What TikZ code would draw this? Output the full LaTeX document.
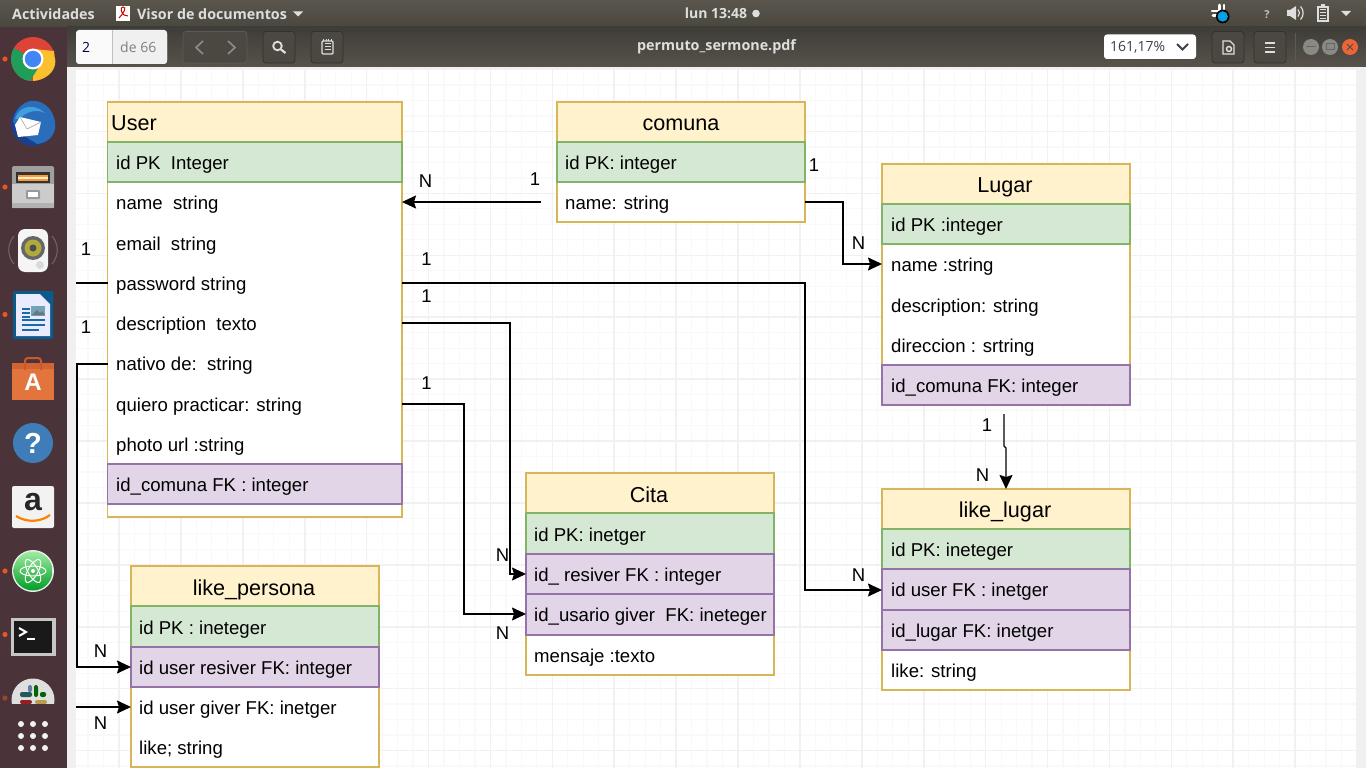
\documentclass[tikz,border=0pt]{standalone}
\usepackage{fontspec}
\setmainfont{Liberation Sans}
\newfontfamily\uifont{Open Sans}
\newfontfamily\symfont{DejaVu Sans}
\usetikzlibrary{arrows.meta,calc}
\definecolor{hdrfill}{HTML}{FFF2CC}\definecolor{hdrline}{HTML}{D6B656}
\definecolor{grnfill}{HTML}{D5E8D4}\definecolor{grnline}{HTML}{82B366}
\definecolor{purfill}{HTML}{E1D5E7}\definecolor{purline}{HTML}{9673A6}
\definecolor{dockbg}{HTML}{4A3439}\definecolor{barT}{HTML}{5A564E}\definecolor{barA}{HTML}{4A473F}\definecolor{barB}{HTML}{3F3D37}\definecolor{barC}{HTML}{57534B}
\definecolor{uitext}{HTML}{DEDEDC}\definecolor{orangedot}{HTML}{E95420}\definecolor{gridminor}{HTML}{F9F9F9}\definecolor{gridmajor}{HTML}{F1F1F1}
\definecolor{btnline}{HTML}{33312C}\definecolor{btnfill}{HTML}{4A4740}\definecolor{wingray}{HTML}{8A8A84}
\definecolor{chred}{HTML}{DB4437}\definecolor{chyel}{HTML}{FBC02D}\definecolor{chgrn}{HTML}{1E9E58}\definecolor{chblu}{HTML}{4285F4}
\definecolor{tbblue}{HTML}{2A6EBB}\definecolor{tbdark}{HTML}{1B3F8C}\definecolor{tblight}{HTML}{3FA0DC}
\definecolor{wrblue}{HTML}{0B5A8E}\definecolor{wrline}{HTML}{1C6AA5}
\definecolor{storeor}{HTML}{E2743E}\definecolor{storeha}{HTML}{C85A2C}
\definecolor{helpbl}{HTML}{3F7DB8}
\tikzset{
 x=1pt,y=-1pt,
 row/.style={draw=none,anchor=west,minimum height=40.3pt,text height=17pt,text depth=4pt,font=\fontsize{18.6}{20}\selectfont,inner sep=0pt},
 title/.style={anchor=center,font=\fontsize{21.6}{24}\selectfont,inner sep=0pt,text height=22pt,text depth=5pt},
 card/.style={draw=hdrline,line width=1.3pt},
 hdr/.style={fill=hdrfill,draw=hdrline,line width=1.3pt},
 grn/.style={fill=grnfill,draw=grnline,line width=1.3pt},
 pur/.style={fill=purfill,draw=purline,line width=1.3pt},
 conn/.style={draw=black,line width=1.4pt,-{Stealth[length=14pt,width=13pt,inset=2pt]}},
 plain/.style={draw=black,line width=1.4pt},
 lbl/.style={font=\fontsize{18.5}{20}\selectfont,inner sep=0pt},
 barbtn/.style={draw=btnline,fill=barB!50!barC,rounded corners=3pt,line width=.8pt},
 uilab/.style={text=uitext,font=\uifont\bfseries\fontsize{14.3}{15}\selectfont,inner sep=0pt},
 dot/.style={fill=orangedot,draw=none},
}
\begin{document}
\begin{tikzpicture}
\useasboundingbox (0,0) rectangle (1366,768);
\fill[white] (0,0) rectangle (1366,768);
% page and grid
\fill[gray!12] (67,67) rectangle (76,768);
\fill[gray!12] (1358,67) rectangle (1366,768);
\fill[gray!12] (67,67) rectangle (1366,70);
\fill[white] (76,70) rectangle (1358,768);
\begin{scope}
\clip (76,70) rectangle (1358,768);
\foreach \i in {0,...,90}{
 \draw[gridminor,line width=1.2pt] ({72.6+15.475*\i},70) -- ({72.6+15.475*\i},768);
 \draw[gridminor,line width=1.2pt] (76,{69.6+15.475*\i}) -- (1358,{69.6+15.475*\i});
}
\foreach \i in {0,...,22}{
 \draw[gridmajor,line width=1.6pt] ({57.1+61.9*\i},70) -- ({57.1+61.9*\i},768);
 \draw[gridmajor,line width=1.6pt] (76,{69.6+61.9*\i}) -- (1358,{69.6+61.9*\i});
}
\end{scope}
% ============ tables
% User
\fill[white] (107.8,102) rectangle (402,517);
\draw[card] (107.8,142) -- (107.8,517) -- (402,517) -- (402,142);
\draw[hdr] (107.8,102) rectangle (402,142);
\draw[grn] (107.8,142) rectangle (402,182);
\draw[pur] (107.8,464) rectangle (402,504);
\node[title,anchor=west] (ut) at (111,122) {User};
\node[row] (u1) at (116,162.5) {id PK\ \ Integer};
\node[row] (u2) at (116,203) {name\ \ string};
\node[row] (u3) at (116,243.5) {email\ \ string};
\node[row] (u4) at (116,283.5) {password string};
\node[row] (u5) at (116,323.5) {description\ \ texto};
\node[row] (u6) at (116,364) {nativo de:\ \ string};
\node[row] (u7) at (116,404.5) {quiero practicar: string};
\node[row] (u8) at (116,444.5) {photo url :string};
\node[row] (u9) at (116,484.5) {id\_comuna FK : integer};
\coordinate (uR2) at (402,202);\coordinate (uR4) at (402,283);\coordinate (uR5) at (402,323);\coordinate (uR7) at (402,404);
\coordinate (uL4) at (107.8,283);\coordinate (uL6) at (107.8,364);
% comuna
\fill[white] (557,102) rectangle (805,222);
\draw[card] (557,182) rectangle (805,222);
\draw[hdr] (557,102) rectangle (805,142);
\draw[grn] (557,142) rectangle (805,182);
\node[title] (ct) at (681,122) {comuna};
\node[row] (c1) at (565,162.5) {id PK: integer};
\node[row] (c2) at (565,203) {name: string};
\coordinate (cR) at (805,202);
\coordinate (cL) at (541,202);
% Lugar
\fill[white] (882,164) rectangle (1130,405);
\draw[card] (882,244) rectangle (1130,365);
\draw[hdr] (882,164) rectangle (1130,204);
\draw[grn] (882,204) rectangle (1130,244);
\draw[pur] (882,365) rectangle (1130,405);
\node[title] (lt) at (1005,184) {Lugar};
\node[row] (l1) at (891,224.5) {id PK :integer};
\node[row] (l2) at (891,265) {name :string};
\node[row] (l3) at (891,305.5) {description: string};
\node[row] (l4) at (891,345.5) {direccion : srtring};
\node[row] (l5) at (891,385.5) {id\_comuna FK: integer};
\coordinate (lL) at (882,264);
\coordinate (lB) at (1004,414);
% like_lugar
\fill[white] (882,489) rectangle (1130,690);
\draw[card] (882,650) rectangle (1130,690);
\draw[hdr] (882,489) rectangle (1130,529);
\draw[grn] (882,529) rectangle (1130,569);
\draw[pur] (882,569) rectangle (1130,610);
\draw[pur] (882,610) rectangle (1130,650);
\node[title] (kt) at (1005,509) {like\_lugar};
\node[row] (k1) at (891,550) {id PK: ineteger};
\node[row] (k2) at (891,590) {id user FK : inetger};
\node[row] (k3) at (891,630.5) {id\_lugar FK: inetger};
\node[row] (k4) at (891,671) {like: string};
\coordinate (kL) at (882,590);
\coordinate (kT) at (1006,489);
% Cita
\fill[white] (526,473) rectangle (774,675);
\draw[card] (526,635) rectangle (774,675);
\draw[hdr] (526,473) rectangle (774,513);
\draw[grn] (526,513) rectangle (774,554);
\draw[pur] (526,554) rectangle (774,594);
\draw[pur] (526,594) rectangle (774,635);
\node[title] (zt) at (649,494) {Cita};
\node[row] (z1) at (534,534.5) {id PK: inetger};
\node[row] (z2) at (534,575) {id\_ resiver FK : integer};
\node[row] (z3) at (534,615) {id\_usario giver\ \ FK: ineteger};
\node[row] (z4) at (534,655.5) {mensaje :texto};
\coordinate (zL2) at (526,574);
\coordinate (zL3) at (526,614);
% like_persona
\fill[white] (131,566) rectangle (379,767);
\draw[card] (131,687) rectangle (379,767);
\draw[hdr] (131,566) rectangle (379,606);
\draw[grn] (131,606) rectangle (379,647);
\draw[pur] (131,647) rectangle (379,687);
\node[title] (pt) at (254,587) {like\_persona};
\node[row] (p1) at (139,627.5) {id PK : ineteger};
\node[row] (p2) at (139,668) {id user resiver FK: integer};
\node[row] (p3) at (139,708) {id user giver FK: inetger};
\node[row] (p4) at (139,748) {like; string};
\coordinate (pL2) at (131,667);
\coordinate (pL3) at (131,707);
\coordinate (fL4) at (76,283);
\coordinate (fL6) at (77,364);
\coordinate (fL7) at (76,707);
% ============ connectors
\draw[conn] (cL) -- (uR2);
\draw[conn] (cR) -- (843,202) -- (843,264) -- (lL);
\draw[conn] (uR4) -- (805,283) -- (805,590) -- (kL);
\draw[conn] (uR5) -- (510,323) -- (510,574) -- (zL2);
\draw[conn] (uR7) -- (464,404) -- (464,614) -- (zL3);
\draw[conn] (lB) -- (1004,446) -- (1006,448) -- (kT);
\draw[plain] (uL4) -- (fL4);
\draw[conn] (uL6) -- (fL6) -- (fL6 |- pL2) -- (pL2);
\draw[conn] (fL7) -- (pL3);
% labels
\foreach \n/\t/\x/\y in {a/N/425.5/181,b/1/535/179,c/1/814/165,d/N/858.5/243,e/1/426.5/259,f/1/426.5/296,g/1/86/249,h/1/86/327,i/1/426.5/383,j/N/502.5/555,m/N/502.5/633,n/N/858.5/575,o/1/987/425,q/N/982.5/475,r/N/100.5/651,s/N/100.5/723}
 \node[lbl] (lab\n) at (\x,\y) {\t};
% ============ desktop chrome
\fill[dockbg] (0,27) rectangle (67,768);
\shade[top color=barT,bottom color=barA] (0,0) rectangle (1366,27);
\shade[top color=barB,bottom color=barC] (67,27) rectangle (1366,67);
% top bar texts
\node[uilab,anchor=west] (t1) at (12,14) {Actividades};
\node[uilab,anchor=west] (t2) at (137,14) {Visor de documentos};
\node[uilab,anchor=center,font=\uifont\bfseries\fontsize{14}{15}\selectfont] (t3) at (716,13.5) {lun 13:48};
\fill[uitext] (756,13.5) circle (3.8);
\fill[uitext] (293,11.5) -- (303,11.5) -- (298,16.5) -- cycle;
\fill[white] (116,6) rectangle (130,21);
\draw[red!80!black,line width=1pt] (119,18) .. controls (124,13) and (127,7) .. (123,7) .. controls (120,7) and (121,13) .. (124,15) -- (128,16);
% right indicators
\draw[white,line width=2.6pt,line cap=round] (1212,11) -- (1218,11) (1213,15.5) -- (1217,15.5) (1219.5,5) -- (1219.5,10) (1224,5) -- (1224,9);
\fill[black] (1222.7,16.5) circle (6.8);\fill[cyan!90!blue] (1222.7,16.5) circle (5.2);
\node[uilab,font=\uifont\bfseries\fontsize{11}{12}\selectfont,text=uitext!80!barA] (q) at (1267,15) {?};
\fill[uitext] (1287,10) -- (1290,10) -- (1296,6) -- (1296,20) -- (1290,16) -- (1287,16) -- cycle;
\draw[uitext,line width=1.2pt] (1298,9.5) .. controls (1300,12) and (1300,14) .. (1298,16.5);
\draw[uitext,line width=1.2pt] (1300.5,6.5) .. controls (1304,10) and (1304,16) .. (1300.5,19.5);
\draw[uitext,line width=1.3pt] (1318,7) rectangle (1328,21);
\fill[uitext] (1321,4.5) rectangle (1325,7);
\foreach \y in {10,13,16,18.5}{\draw[uitext,line width=1pt] (1320,\y) -- (1326,\y);}
\fill[uitext] (1341,11) -- (1351,11) -- (1346,16) -- cycle;
% toolbar
\fill[white!96!gray,rounded corners=3pt] (76,30) rectangle (167,64);
\fill[gray!12] (112.5,30.5) -- (164,30.5) .. controls (166,30.5) and (167,32) .. (167,34) -- (167,60) .. controls (167,62) and (166,64) .. (164,64) -- (112.5,64) -- cycle;
\draw[gray!50] (112.5,30) -- (112.5,64);
\node[inner sep=0pt,anchor=west,text=black!75!blue,font=\uifont\fontsize{14}{15}\selectfont] (pg) at (82,47) {2};
\node[inner sep=0pt,anchor=west,text=gray,font=\uifont\fontsize{14}{15}\selectfont] (pgd) at (120,47) {de 66};
\draw[barbtn,draw=btnline!80] (183,31.5) rectangle (247,63);
\draw[gray!90,line width=1.6pt] (203,41) -- (196,47.5) -- (203,54);
\draw[gray!90,line width=1.6pt] (228,41) -- (235,47.5) -- (228,54);
\draw[barbtn] (263,31.5) rectangle (295,63);
\draw[uitext,line width=1.8pt] (277.5,46) circle (4.3);
\draw[uitext,line width=2.2pt] (281,49.5) -- (285.5,53);
\draw[barbtn] (311,31.5) rectangle (343,63);
\draw[uitext,line width=1.4pt,rounded corners=1pt] (322,41) rectangle (333,54);
\foreach \x in {323.5,326,328.5,331}{\draw[uitext,line width=1pt] (\x,39) -- (\x,41.5);}
\foreach \y in {44,47,50}{\draw[uitext,line width=1pt] (324.5,\y) -- (330.5,\y);}
\node[uilab] (fn) at (716.5,47) {permuto\_sermone.pdf};
\fill[white,rounded corners=3pt] (1104,34.5) rectangle (1196,59);
\node[inner sep=0pt,anchor=west,text=black!75,font=\uifont\fontsize{14}{15}\selectfont] (zoomv) at (1110,47) {161,17\%};
\draw[black!75,line width=1.8pt] (1177,44) -- (1182.5,49.5) -- (1188,44);
\draw[barbtn] (1212,31.5) rectangle (1244,63);
\draw[uitext,line width=1.3pt] (1223,41) -- (1230,41) -- (1234,45) -- (1234,54) -- (1223,54) -- cycle;
\draw[uitext,line width=1.5pt] (1229,49) circle (2.5);
\draw[barbtn] (1254,31.5) rectangle (1286,63);
\foreach \y in {43,47.5,52}{\draw[uitext,line width=1.5pt] (1265,\y) -- (1275,\y);}
\draw[btnline!80] (1295,33) -- (1295,61);
\fill[wingray] (1311,47) circle (8);\fill[wingray] (1330,47) circle (8);
\fill[orangedot!90!white] (1350,47) circle (8);
\draw[black!60,line width=1pt] (1306,47) -- (1316,47);
\draw[black!60,line width=1pt] (1326,44) rectangle (1334,50);
\draw[black!70,line width=1pt] (1347,44) -- (1353,50) (1353,44) -- (1347,50);
% dock dots
\foreach \y in {59,187,314.5,571,634.5}{\fill[dot] (5,\y) circle (2.6);}
\fill[orangedot!50!dockbg] (5,698) circle (2.6);
% chrome
\begin{scope}[shift={(33,59)}]
 \fill[chred] (0,0) circle (22);
 \fill[chyel] (0,0) -- (22,-1) .. controls (24,8) and (18,20) .. (0,22) -- cycle;
 \fill[chyel] (0,-10) -- (21,-8) -- (22,4) -- (0,10) -- cycle;
 \fill[chgrn] (0,0) -- (-19,-11) .. controls (-26,0) and (-20,20) .. (-3,22) -- (7,6) -- cycle;
 \fill[white] (0,0) circle (10.5);\fill[chblu] (0,0) circle (8.2);
\end{scope}
% thunderbird
\begin{scope}[shift={(33,123)}]
 \fill[tbdark] (0,1) circle (22);
 \fill[tbblue] (-3,-22) .. controls (14,-24) and (24,-8) .. (22,6) .. controls (20,16) and (12,20) .. (4,21) -- (-16,8) -- (-20,-2) .. controls (-18,-14) and (-10,-20) .. (-3,-22) -- cycle;
 \fill[tblight] (-18,-4) .. controls (-14,-18) and (2,-20) .. (12,-10) .. controls (4,-14) and (-6,-12) .. (-14,-4) -- cycle;
 \fill[white] (-18,2) -- (-13,-6) -- (8,-1) -- (5,12) -- (-15,14) -- cycle;
 \draw[gray!60,line width=.7pt] (-13,-6) -- (-6,6) -- (8,-1);
\end{scope}
% files
\begin{scope}[shift={(33,187)}]
 \fill[gray!75,rounded corners=1.5pt] (-21,-21) rectangle (21,21);
 \fill[black!80] (-17,-15) rectangle (17,-4);
 \fill[orange!80!white] (-15,-12) rectangle (15,-6);
 \fill[white!85!orange] (-15,-10) rectangle (15,-8);
 \fill[gray!40] (-21,-3) rectangle (21,21);
 \fill[gray!60] (-21,16) rectangle (21,21);
 \fill[gray!80,rounded corners=1pt] (-7,3) rectangle (7,12);
 \fill[white] (-5,5) rectangle (5,10);
\end{scope}
% speaker
\begin{scope}[shift={(33,250)}]
 \draw[gray!70!dockbg,line width=1pt] (-19,-14) .. controls (-26,-6) and (-26,6) .. (-19,14);
 \draw[gray!70!dockbg,line width=1pt] (19,-14) .. controls (26,-6) and (26,6) .. (19,14);
 \fill[gray!8,rounded corners=7pt] (-15,-21) rectangle (15,22);
 \fill[black!60] (0,-2) circle (12);
 \fill[yellow!65!black] (0,-2) circle (8.5);
 \fill[black!70] (0,-2) circle (3.5);
 \fill[gray!30] (7,15) circle (4);
\end{scope}
% writer
\begin{scope}[shift={(33,315)}]
 \fill[wrblue,rounded corners=1.5pt] (-20,-24) rectangle (20,24);
 \fill[white!92!blue] (-17,-21) -- (7,-21) -- (17,-11) -- (17,21) -- (-17,21) -- cycle;
 \fill[wrblue] (9,-24) -- (20,-24) -- (20,-13) -- cycle;
 \fill[wrline] (-11,-7) rectangle (-3,-5);
 \foreach \y in {-3,1}{\fill[wrline] (-11,\y) rectangle (-3,\y+2);}
 \fill[gray!60!cyan] (-2,-9) rectangle (12,1);
 \fill[black!55] (-1,0) -- (4,-5) -- (7,-2) -- (9,-4) -- (12,0) -- cycle;
 \foreach \y in {4,9}{\fill[wrline] (-11,\y) rectangle (12,\y+2);}
 \fill[wrline] (-11,14) rectangle (6,16);
\end{scope}
% store
\begin{scope}[shift={(33,381)}]
 \fill[storeha!60!storeor] (-21,-18) rectangle (21,-12);
 \fill[storeor] (-21,-12) rectangle (21,19);
 \draw[storeha,line width=2pt,rounded corners=3pt] (-8,-11) -- (-8,-23) -- (8,-23) -- (8,-11);
 \node[inner sep=0pt,text=white,font=\bfseries\fontsize{24}{28}\selectfont] (storeA) at (0,1) {A};
\end{scope}
% help
\begin{scope}[shift={(33,443)}]
 \fill[helpbl] (0,0) circle (20);
 \node[inner sep=0pt,text=white,font=\bfseries\fontsize{29}{30}\selectfont] (helpq) at (0,0) {?};
\end{scope}
% amazon
\begin{scope}[shift={(33,507)}]
 \fill[gray!10,rounded corners=2pt] (-21,-21) rectangle (21,21);
 \node[inner sep=0pt,text=black!85,font=\bfseries\fontsize{32}{33}\selectfont] (amz) at (0,-5) {a};
 \draw[orange,line width=2.2pt] (-17,9) .. controls (-6,16) and (8,15) .. (17,8);
\end{scope}
% atom
\begin{scope}[shift={(33,571)}]
 \fill[gray!15] (0,0) circle (21);
 \shade[top color=green!35!white!85!gray,bottom color=green!55!black!85!cyan] (0,0) circle (19.5);
 \foreach \a in {0,60,120}{\draw[white,line width=1pt,rotate=\a] (0,0) ellipse (13 and 5);}
 \fill[white] (0,0) circle (2);
\end{scope}
% terminal
\begin{scope}[shift={(33,637)}]
 \fill[gray!45] (-22.5,-19) rectangle (22.5,19);
 \fill[black!90] (-19,-16) rectangle (19,16);
 \draw[white,line width=2pt] (-14,-9) -- (-7,-5) -- (-14,-1);
 \draw[white,line width=1.5pt] (-6,2) -- (2,2);
\end{scope}
% slack (cut off)
\begin{scope}
 \clip (0,678) rectangle (67,703);
 \fill[gray!25] (33,700) circle (21.5);
 \fill[cyan!45!blue!55!gray,rounded corners=2pt] (28,685) rectangle (32,692);
 \fill[green!40!black,rounded corners=2pt] (34,685) rectangle (38,697);
 \fill[teal!60!gray!70!black,rounded corners=2pt] (20,692) rectangle (32,697);
 \fill[green!40!black,rounded corners=2pt] (40,692) rectangle (46,697);
 \fill[red!40!dockbg,rounded corners=2pt] (20,700) rectangle (32,704);
 \fill[yellow!40!brown!80!black,rounded corners=2pt] (35,700) rectangle (47,704);
\end{scope}
% show-apps grid
\foreach \x in {21,33,45}\foreach \y in {724,736,748}{\fill[white!90!gray] (\x,\y) circle (3);}
\end{tikzpicture}
\end{document}
